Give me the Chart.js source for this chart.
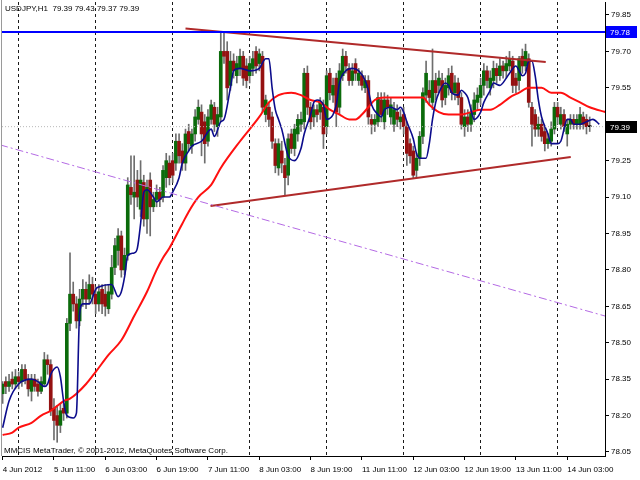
<!DOCTYPE html>
<html>
<head>
<meta charset="utf-8">
<title>USDJPY,H1</title>
<script src="https://cdn.jsdelivr.net/npm/chart.js@4.4.1/dist/chart.umd.min.js"></script>
<style>
  html, body { margin: 0; padding: 0; background: #fff; }
  #chart { display: block; }
</style>
</head>
<body>
<canvas id="chart" width="640" height="480"></canvas>
<script>
// Helper: Get element by ID
const getEl = (id) => document.getElementById(id);

// --- Hourly bars (first bar = 4 Jun 2012 19:00) ---
const opens = [
  78.29, 78.34, 78.32, 78.35, 78.33, 78.36, 78.34, 78.39, 78.35, 78.30,
  78.35, 78.33, 78.30, 78.33, 78.43, 78.41, 78.23, 78.20, 78.16, 78.23,
  78.21, 78.58, 78.70, 78.66, 78.59, 78.68, 78.72, 78.68, 78.74, 78.70,
  78.66, 78.72, 78.70, 78.64, 78.70, 78.81, 78.88, 78.94, 78.80, 78.86,
  79.14, 79.10, 79.17, 79.05, 79.16, 79.01, 79.17, 79.06, 79.09, 79.12,
  79.10, 79.18, 79.24, 79.25, 79.24, 79.33, 79.29, 79.24, 79.37, 79.31,
  79.36, 79.42, 79.45, 79.41, 79.33, 79.42, 79.47, 79.39, 79.43, 79.70,
  79.70, 79.56, 79.66, 79.60, 79.63, 79.68, 79.64, 79.60, 79.63, 79.70,
  79.65, 79.68, 79.44, 79.47, 79.43, 79.32, 79.22, 79.29, 79.23, 79.19,
  79.36, 79.30, 79.36, 79.40, 79.41, 79.61, 79.47, 79.43, 79.46, 79.45,
  79.47, 79.39, 79.61, 79.52, 79.59, 79.47, 79.60, 79.68, 79.63, 79.58,
  79.65, 79.58, 79.60, 79.55, 79.58, 79.42, 79.40, 79.41, 79.50, 79.41,
  79.50, 79.43, 79.40, 79.45, 79.41, 79.44, 79.39, 79.32, 79.29, 79.21,
  79.26, 79.35, 79.52, 79.54, 79.49, 79.58, 79.56, 79.58, 79.51, 79.55,
  79.61, 79.53, 79.57, 79.51, 79.39, 79.43, 79.40, 79.44, 79.49, 79.51,
  79.56, 79.62, 79.55, 79.58, 79.63, 79.60, 79.64, 79.62, 79.64, 79.66,
  79.59, 79.58, 79.68, 79.64, 79.67, 79.47, 79.44, 79.38, 79.40, 79.37,
  79.32, 79.33, 79.38, 79.47, 79.40, 79.44, 79.36, 79.40, 79.42, 79.40,
  79.40, 79.43, 79.42, 79.39
];
const highs = [
  78.34, 78.36, 78.37, 78.38, 78.39, 78.38, 78.41, 78.41, 78.37, 78.37,
  78.37, 78.35, 78.36, 78.46, 78.45, 78.43, 78.27, 78.24, 78.25, 78.25,
  78.60, 78.87, 78.75, 78.69, 78.72, 78.76, 78.75, 78.78, 78.77, 78.73,
  78.74, 78.74, 78.74, 78.74, 78.86, 78.93, 78.97, 78.96, 78.89, 79.18,
  79.27, 79.27, 79.21, 79.25, 79.19, 79.17, 79.20, 79.12, 79.15, 79.14,
  79.23, 79.28, 79.27, 79.28, 79.36, 79.36, 79.32, 79.38, 79.40, 79.38,
  79.46, 79.50, 79.48, 79.44, 79.46, 79.50, 79.49, 79.47, 79.78, 79.78,
  79.74, 79.70, 79.69, 79.68, 79.71, 79.70, 79.67, 79.68, 79.70, 79.72,
  79.71, 79.70, 79.52, 79.49, 79.45, 79.34, 79.34, 79.33, 79.26, 79.36,
  79.38, 79.40, 79.44, 79.45, 79.63, 79.64, 79.49, 79.48, 79.48, 79.51,
  79.50, 79.62, 79.63, 79.59, 79.61, 79.65, 79.71, 79.70, 79.65, 79.65,
  79.67, 79.63, 79.62, 79.60, 79.60, 79.44, 79.44, 79.53, 79.53, 79.53,
  79.52, 79.51, 79.49, 79.48, 79.46, 79.47, 79.41, 79.34, 79.31, 79.28,
  79.37, 79.55, 79.66, 79.58, 79.71, 79.61, 79.62, 79.61, 79.59, 79.63,
  79.64, 79.60, 79.59, 79.53, 79.46, 79.46, 79.48, 79.53, 79.55, 79.59,
  79.65, 79.64, 79.62, 79.66, 79.65, 79.67, 79.66, 79.68, 79.70, 79.68,
  79.61, 79.68, 79.71, 79.73, 79.69, 79.49, 79.46, 79.43, 79.42, 79.39,
  79.36, 79.41, 79.49, 79.49, 79.47, 79.46, 79.42, 79.44, 79.44, 79.44,
  79.47, 79.45, 79.44, 79.43
];
const lows = [
  78.25, 78.29, 78.30, 78.31, 78.31, 78.31, 78.32, 78.33, 78.28, 78.26,
  78.30, 78.28, 78.29, 78.32, 78.37, 78.20, 78.10, 78.09, 78.13, 78.18,
  78.19, 78.55, 78.63, 78.56, 78.57, 78.65, 78.64, 78.66, 78.66, 78.62,
  78.63, 78.62, 78.61, 78.62, 78.68, 78.78, 78.82, 78.77, 78.78, 78.84,
  79.07, 79.01, 79.06, 79.02, 78.98, 78.95, 78.94, 79.04, 79.06, 79.06,
  79.08, 79.14, 79.15, 79.16, 79.21, 79.24, 79.21, 79.21, 79.29, 79.28,
  79.33, 79.40, 79.27, 79.24, 79.31, 79.40, 79.37, 79.35, 79.41, 79.65,
  79.50, 79.54, 79.59, 79.57, 79.60, 79.56, 79.55, 79.57, 79.60, 79.61,
  79.62, 79.45, 79.41, 79.39, 79.30, 79.20, 79.19, 79.20, 79.11, 79.15,
  79.28, 79.27, 79.33, 79.37, 79.38, 79.44, 79.38, 79.39, 79.41, 79.42,
  79.30, 79.36, 79.50, 79.49, 79.39, 79.44, 79.58, 79.61, 79.56, 79.56,
  79.58, 79.56, 79.54, 79.53, 79.40, 79.36, 79.37, 79.39, 79.41, 79.38,
  79.44, 79.40, 79.37, 79.39, 79.38, 79.36, 79.23, 79.24, 79.18, 79.18,
  79.23, 79.32, 79.49, 79.48, 79.46, 79.50, 79.53, 79.47, 79.48, 79.52,
  79.50, 79.50, 79.48, 79.38, 79.35, 79.37, 79.37, 79.41, 79.46, 79.48,
  79.52, 79.55, 79.52, 79.55, 79.57, 79.58, 79.59, 79.59, 79.62, 79.53,
  79.53, 79.54, 79.61, 79.62, 79.47, 79.31, 79.35, 79.35, 79.33, 79.29,
  79.30, 79.31, 79.36, 79.40, 79.38, 79.37, 79.31, 79.38, 79.38, 79.38,
  79.38, 79.38, 79.36, 79.37
];
const closes = [
  78.33, 78.32, 78.34, 78.33, 78.36, 78.34, 78.39, 78.35, 78.31, 78.35,
  78.32, 78.30, 78.34, 78.43, 78.41, 78.22, 78.18, 78.16, 78.22, 78.21,
  78.58, 78.70, 78.66, 78.59, 78.68, 78.72, 78.68, 78.74, 78.70, 78.66,
  78.71, 78.66, 78.65, 78.71, 78.81, 78.90, 78.94, 78.80, 78.86, 79.15,
  79.11, 79.12, 79.10, 79.17, 79.01, 79.14, 79.06, 79.09, 79.12, 79.09,
  79.21, 79.25, 79.18, 79.19, 79.33, 79.27, 79.24, 79.36, 79.32, 79.36,
  79.43, 79.47, 79.36, 79.32, 79.43, 79.48, 79.40, 79.44, 79.70, 79.68,
  79.55, 79.66, 79.62, 79.65, 79.68, 79.59, 79.58, 79.65, 79.67, 79.64,
  79.69, 79.47, 79.50, 79.42, 79.33, 79.23, 79.32, 79.24, 79.18, 79.34,
  79.30, 79.38, 79.42, 79.42, 79.61, 79.47, 79.41, 79.46, 79.44, 79.49,
  79.36, 79.60, 79.53, 79.56, 79.45, 79.62, 79.68, 79.64, 79.58, 79.62,
  79.61, 79.61, 79.56, 79.58, 79.43, 79.40, 79.42, 79.51, 79.44, 79.50,
  79.47, 79.48, 79.46, 79.42, 79.43, 79.39, 79.28, 79.27, 79.19, 79.26,
  79.35, 79.53, 79.61, 79.51, 79.58, 79.53, 79.59, 79.50, 79.56, 79.60,
  79.53, 79.57, 79.51, 79.40, 79.43, 79.40, 79.45, 79.50, 79.52, 79.56,
  79.62, 79.58, 79.59, 79.63, 79.60, 79.64, 79.62, 79.65, 79.67, 79.56,
  79.56, 79.67, 79.64, 79.70, 79.49, 79.40, 79.38, 79.40, 79.35, 79.32,
  79.34, 79.38, 79.47, 79.43, 79.44, 79.39, 79.40, 79.42, 79.40, 79.42,
  79.44, 79.40, 79.39, 79.39
];

// Fast moving average (blue), sampled at bar positions
const fastMaBars = [
  0, 2, 5, 9, 11, 13, 14, 15, 17, 18, 19, 20, 22, 23, 24, 25, 27, 29, 30, 34,
  36, 37, 38, 39, 41, 42, 43, 44, 45, 47, 48, 50, 52, 53, 55, 56, 58, 59, 62, 65,
  66, 68, 69, 71, 72, 74, 77, 80, 82, 83, 84, 85, 86, 87, 89, 91, 93, 94, 96, 97,
  98, 100, 101, 104, 105, 107, 109, 111, 113, 114, 115, 117, 118, 119, 121, 123, 124, 125, 126, 128,
  129, 130, 132, 133, 134, 135, 136, 138, 139, 140, 142, 143, 144, 145, 146, 147, 149, 150, 152, 153,
  155, 157, 158, 160, 161, 162, 163, 164, 165, 166, 167, 168, 170, 171, 173, 174, 176, 177, 178, 180,
  182, 184, 186
];
const fastMaValues = [
  78.15, 78.26, 78.33, 78.35, 78.34, 78.32, 78.33, 78.37, 78.40, 78.36, 78.26, 78.20, 78.19, 78.21, 78.62, 78.66, 78.66, 78.72, 78.73, 78.74,
  78.69, 78.71, 78.77, 78.86, 78.87, 78.89, 78.99, 79.12, 79.13, 79.10, 79.08, 79.10, 79.10, 79.12, 79.18, 79.24, 79.29, 79.31, 79.33, 79.38,
  79.35, 79.41, 79.42, 79.55, 79.62, 79.63, 79.62, 79.63, 79.67, 79.67, 79.55, 79.46, 79.42, 79.38, 79.27, 79.25, 79.30, 79.36, 79.44, 79.49,
  79.50, 79.48, 79.42, 79.48, 79.57, 79.62, 79.63, 79.62, 79.58, 79.54, 79.48, 79.44, 79.43, 79.46, 79.47, 79.46, 79.47, 79.45, 79.41, 79.34,
  79.28, 79.26, 79.26, 79.32, 79.42, 79.49, 79.53, 79.57, 79.56, 79.53, 79.52, 79.54, 79.53, 79.51, 79.46, 79.42, 79.45, 79.49, 79.54, 79.57,
  79.56, 79.59, 79.61, 79.64, 79.62, 79.60, 79.61, 79.66, 79.66, 79.60, 79.50, 79.43, 79.36, 79.32, 79.32, 79.33, 79.42, 79.42, 79.40, 79.40,
  79.41, 79.42, 79.40
];

// Slow moving average (red), sampled at bar positions
const slowMaBars = [
  0, 3, 5, 9, 12, 15, 17, 19, 21, 23, 26, 29, 33, 37, 41, 45, 48, 50, 52, 54,
  56, 58, 61, 65, 68, 74, 80, 83, 86, 90, 93, 96, 99, 102, 105, 108, 110, 112, 114, 116,
  119, 122, 128, 131, 133, 136, 139, 143, 146, 149, 152, 155, 158, 161, 164, 168, 171, 174, 177, 180,
  183, 188
];
const slowMaValues = [
  78.12, 78.13, 78.15, 78.17, 78.20, 78.22, 78.24, 78.26, 78.27, 78.29, 78.33, 78.38, 78.45, 78.51, 78.61, 78.71, 78.80, 78.85, 78.89, 78.94,
  78.99, 79.04, 79.10, 79.15, 79.22, 79.33, 79.43, 79.49, 79.52, 79.53, 79.52, 79.50, 79.49, 79.46, 79.44, 79.42, 79.42, 79.44, 79.47, 79.50,
  79.51, 79.51, 79.51, 79.51, 79.48, 79.45, 79.44, 79.44, 79.45, 79.46, 79.46, 79.48, 79.51, 79.53, 79.55, 79.55, 79.53, 79.53, 79.51, 79.49,
  79.47, 79.45
];

// Drawn objects: triangle sides, falling channel line, levels
const upperTrendBars = [57, 169.3];
const upperTrendPrices = [79.794, 79.656];
const lowerTrendBars = [64.8, 177.1];
const lowerTrendPrices = [79.063, 79.265];
const channelBars = [-0.8, 187.8];
const channelPrices = [79.315, 78.61];
const resistanceLevel = 79.78;
const bidPrice = 79.39;

// Axes
const timeTickBars = [0, 16, 32, 48, 64, 80, 96, 112, 128, 144, 160, 176];
const timeLabels = ['4 Jun 2012', '5 Jun 11:00', '6 Jun 03:00', '6 Jun 19:00', '7 Jun 11:00', '8 Jun 03:00',
  '8 Jun 19:00', '11 Jun 11:00', '12 Jun 03:00', '12 Jun 19:00', '13 Jun 11:00', '14 Jun 03:00'];
const dayBreakBars = [5, 29, 53, 77, 101, 125, 149, 173];
const priceTicks = [79.85, 79.70, 79.55, 79.40, 79.25, 79.10, 78.95, 78.80, 78.65, 78.50, 78.35, 78.20, 78.05];

const headerText = 'USDJPY,H1  79.39 79.43 79.37 79.39';
const footerText = 'MMCIS MetaTrader, \u00A9 2001-2012, MetaQuotes Software Corp.';

// visible window
const xMin = -0.2, xMax = 187.77;
const yMin = 78.0335, yMax = 79.9035;

const FONT = 'Liberation Sans';
const bullColor = '#0b6b0b';
const bearColor = '#951111';
const wickColor = '#6e6e6e';

const pts = (xs, ys) => xs.map((x, i) => ({ x: x, y: ys[i] }));

// no automatic label padding: the plot area is fixed
const noPad = (s) => { s.paddingTop = 0; s.paddingBottom = 0; s.paddingLeft = 0; s.paddingRight = 0; };

// Price tags + header/footer text drawn on top
const overlayPlugin = {
  id: 'overlay',
  afterDraw(chart) {
    const { ctx, chartArea, scales } = chart;
    ctx.save();

    // left frame
    ctx.strokeStyle = '#9a9a9a';
    ctx.lineWidth = 1;
    ctx.beginPath();
    ctx.moveTo(1.5, chartArea.bottom);
    ctx.lineTo(1.5, 0);
    ctx.stroke();

    const tag = (price, bg) => {
      const y = Math.round(scales.y.getPixelForValue(price));
      ctx.fillStyle = bg;
      ctx.fillRect(chartArea.right + 1, y - 6, 31, 12);
      ctx.fillStyle = '#fff';
      ctx.font = '8px "' + FONT + '"';
      ctx.textBaseline = 'middle';
      ctx.textAlign = 'left';
      ctx.fillText(price.toFixed(2), chartArea.right + 5, y + 0.5);
    };
    tag(resistanceLevel, '#0000ff');
    tag(bidPrice, '#000000');

    ctx.fillStyle = '#000';
    ctx.font = '8px "' + FONT + '"';
    ctx.textBaseline = 'alphabetic';
    ctx.textAlign = 'left';
    ctx.fillText(headerText, 5, 11);
    ctx.fillText(footerText, 4, 453);
    ctx.restore();
  }
};

function renderChart() {
  const ctx = getEl('chart').getContext('2d');

  const bodyColors = opens.map((o, i) =>
    closes[i] > o ? bullColor : (closes[i] < o ? bearColor : '#000'));

  new Chart(ctx, {
    type: 'bar',
    data: {
      datasets: [
        {
          type: 'line', label: 'Level 79.78', order: 0,
          data: pts([xMin, xMax], [resistanceLevel, resistanceLevel]),
          borderColor: '#0000ff', borderWidth: 2, pointRadius: 0
        },
        {
          type: 'line', label: 'Channel', order: 1,
          data: pts(channelBars, channelPrices),
          borderColor: '#b46ae4', borderWidth: 1, borderDash: [8, 3, 2, 3], pointRadius: 0
        },
        {
          type: 'line', label: 'Upper trend', order: 2,
          data: pts(upperTrendBars, upperTrendPrices),
          borderColor: '#b02a2a', borderWidth: 2, pointRadius: 0
        },
        {
          type: 'line', label: 'Lower trend', order: 2,
          data: pts(lowerTrendBars, lowerTrendPrices),
          borderColor: '#b02a2a', borderWidth: 2, pointRadius: 0
        },
        {
          type: 'line', label: 'Bid', order: 3,
          data: pts([xMin, xMax], [bidPrice, bidPrice]),
          borderColor: '#b8b8b8', borderWidth: 1, borderDash: [1, 2], pointRadius: 0
        },
        {
          type: 'line', label: 'Fast MA', order: 4,
          data: pts(fastMaBars, fastMaValues),
          borderColor: '#0c0c8c', borderWidth: 1.6, pointRadius: 0,
          cubicInterpolationMode: 'monotone'
        },
        {
          type: 'line', label: 'Slow MA', order: 5,
          data: pts(slowMaBars, slowMaValues),
          borderColor: '#ff1010', borderWidth: 2, pointRadius: 0,
          cubicInterpolationMode: 'monotone'
        },
        {
          label: 'Body', order: 6,
          data: opens.map((o, i) => ({ x: i, y: [o, closes[i]] })),
          backgroundColor: bodyColors,
          borderWidth: 0, barThickness: 3, minBarLength: 1, grouped: false
        },
        {
          label: 'Wick', order: 7,
          data: lows.map((l, i) => ({ x: i, y: [l, highs[i]] })),
          backgroundColor: wickColor,
          borderWidth: 0, barThickness: 1, grouped: false
        }
      ]
    },
    options: {
      responsive: false,
      maintainAspectRatio: false,
      devicePixelRatio: 1,
      animation: false,
      layout: { padding: { left: 2, top: 2, right: 0, bottom: 0 } },
      font: { family: FONT, size: 8 },
      plugins: { legend: { display: false }, tooltip: { enabled: false } },
      scales: {
        x: {
          type: 'linear', axis: 'x', position: 'bottom', min: xMin, max: xMax, offset: false,
          afterBuildTicks: (s) => { s.ticks = timeTickBars.map(v => ({ value: v })); },
          afterFit: (s) => { s.height = 24; noPad(s); },
          ticks: {
            autoSkip: false, maxRotation: 0, minRotation: 0, align: 'start', padding: 5,
            color: '#000', font: { family: FONT, size: 8 },
            callback: (v, i) => timeLabels[i]
          },
          grid: { offset: false, drawOnChartArea: false, drawTicks: true, tickLength: 4, tickColor: '#000' },
          border: { display: true, color: '#000', width: 1 }
        },
        days: {
          type: 'linear', axis: 'x', position: 'bottom', min: xMin, max: xMax, offset: false,
          afterBuildTicks: (s) => { s.ticks = dayBreakBars.map(v => ({ value: v })); },
          afterFit: (s) => { s.height = 0; noPad(s); },
          ticks: { display: false },
          grid: { offset: false, drawOnChartArea: true, drawTicks: false, color: '#1a1a1a', lineWidth: 1 },
          border: { display: false, dash: [3, 3] }
        },
        y: {
          type: 'linear', position: 'right', min: yMin, max: yMax,
          afterBuildTicks: (s) => { s.ticks = priceTicks.map(v => ({ value: v })); },
          afterFit: (s) => { s.width = 35; noPad(s); },
          ticks: {
            color: '#000', padding: 2, font: { family: FONT, size: 8 },
            callback: (v) => Number(v).toFixed(2)
          },
          grid: { drawOnChartArea: false, drawTicks: true, tickLength: 4, tickColor: '#000' },
          border: { display: true, color: '#000', width: 1 }
        }
      }
    },
    plugins: [overlayPlugin]
  });
}

document.addEventListener('DOMContentLoaded', renderChart);
</script>
</body>
</html>
